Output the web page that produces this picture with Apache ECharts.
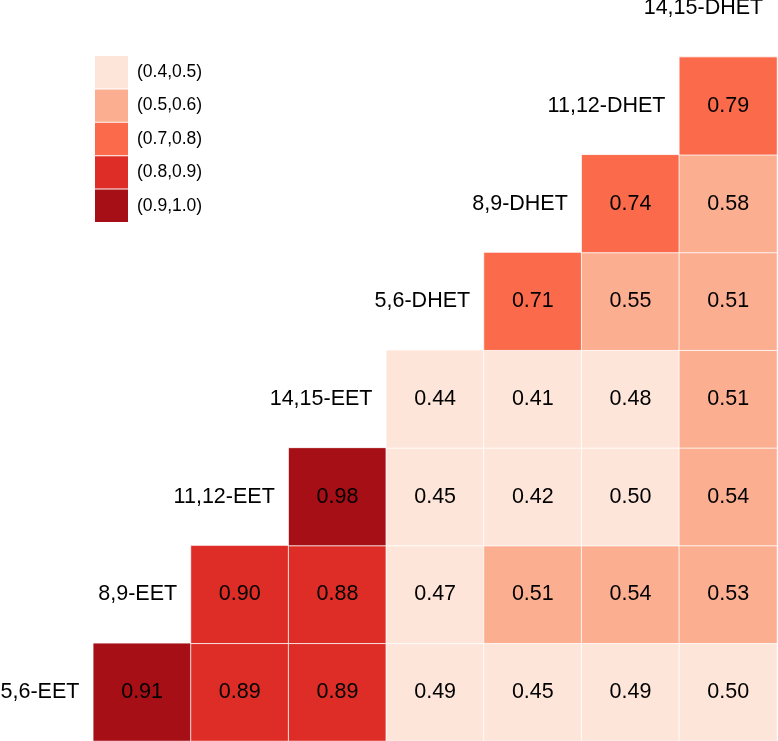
<!DOCTYPE html>
<html>
<head>
<meta charset="utf-8">
<script src="https://cdn.jsdelivr.net/npm/echarts@6/dist/echarts.min.js"></script>
<style>
html,body{margin:0;padding:0;background:#fff;}
#chart{width:778px;height:741px;}
</style>
</head>
<body>
<div id="chart"></div>
<script>
// Variables (same order on x and y)
const variables = ['5,6-EET', '8,9-EET', '11,12-EET', '14,15-EET', '5,6-DHET', '8,9-DHET', '11,12-DHET', '14,15-DHET'];

// Correlations of each row variable with the variables after it
const row_56EET   = [0.91, 0.89, 0.89, 0.49, 0.45, 0.49, 0.50];
const row_89EET   = [0.90, 0.88, 0.47, 0.51, 0.54, 0.53];
const row_1112EET = [0.98, 0.45, 0.42, 0.50, 0.54];
const row_1415EET = [0.44, 0.41, 0.48, 0.51];
const row_56DHET  = [0.71, 0.55, 0.51];
const row_89DHET  = [0.74, 0.58];
const row_1112DHET = [0.79];

// Legend bins
const binLower  = [0.4, 0.5, 0.7, 0.8, 0.9];
const binUpper  = [0.5, 0.6, 0.8, 0.9, 1.0];
const binLabels = ['(0.4,0.5)', '(0.5,0.6)', '(0.7,0.8)', '(0.8,0.9)', '(0.9,1.0)'];
const binColors = ['#FEE5D9', '#FCAE91', '#FB6A4A', '#DE2D26', '#A50F15'];

const rows = [row_56EET, row_89EET, row_1112EET, row_1415EET, row_56DHET, row_89DHET, row_1112DHET];
const cellData = [];
rows.forEach(function (vals, r) {
  vals.forEach(function (v, k) {
    cellData.push([r + 1 + k, r, v]);
  });
});
const diagData = variables.map(function (name, i) { return [i, i, name]; });

const FONT = 'Liberation Sans, Arial, Helvetica, sans-serif';

const chart = echarts.init(document.getElementById('chart'), null, {renderer: 'canvas'});
chart.setOption({
  animation: false,
  backgroundColor: '#ffffff',
  grid: {left: -4.4, right: 1, top: -40.6, bottom: 0, containLabel: false, outerBoundsMode: 'none'},
  xAxis: {type: 'category', data: variables, show: false, splitArea: {show: false}},
  yAxis: {type: 'category', data: variables, show: false, splitArea: {show: false}},
  visualMap: {
    type: 'piecewise',
    seriesIndex: 0,
    orient: 'vertical',
    inverse: true,
    left: 95,
    top: 56,
    padding: 0,
    itemWidth: 33,
    itemHeight: 32.4,
    itemGap: 1,
    textGap: 9,
    itemSymbol: 'rect',
    selectedMode: false,
    hoverLink: false,
    pieces: binLabels.map(function (lab, i) {
      return {gt: binLower[i], lte: binUpper[i], color: binColors[i], label: lab};
    }),
    textStyle: {fontSize: 17.5, color: '#000', fontFamily: FONT}
  },
  series: [
    {
      type: 'heatmap',
      data: cellData,
      itemStyle: {borderColor: 'rgba(255,255,255,0.8)', borderWidth: 1},
      label: {
        show: true,
        fontSize: 21.5,
        color: '#000',
        fontFamily: FONT,
        formatter: function (p) { return p.value[2].toFixed(2); }
      },
      emphasis: {disabled: true}
    },
    {
      type: 'scatter',
      data: diagData,
      symbolSize: 0,
      silent: true,
      clip: false,
      itemStyle: {opacity: 1},
      label: {
        show: true,
        position: 'inside',
        align: 'right',
        verticalAlign: 'middle',
        offset: [35, 0],
        fontSize: 21.5,
        color: '#000',
        fontFamily: FONT,
        formatter: function (p) { return p.value[2]; }
      }
    }
  ]
});
</script>
</body>
</html>
